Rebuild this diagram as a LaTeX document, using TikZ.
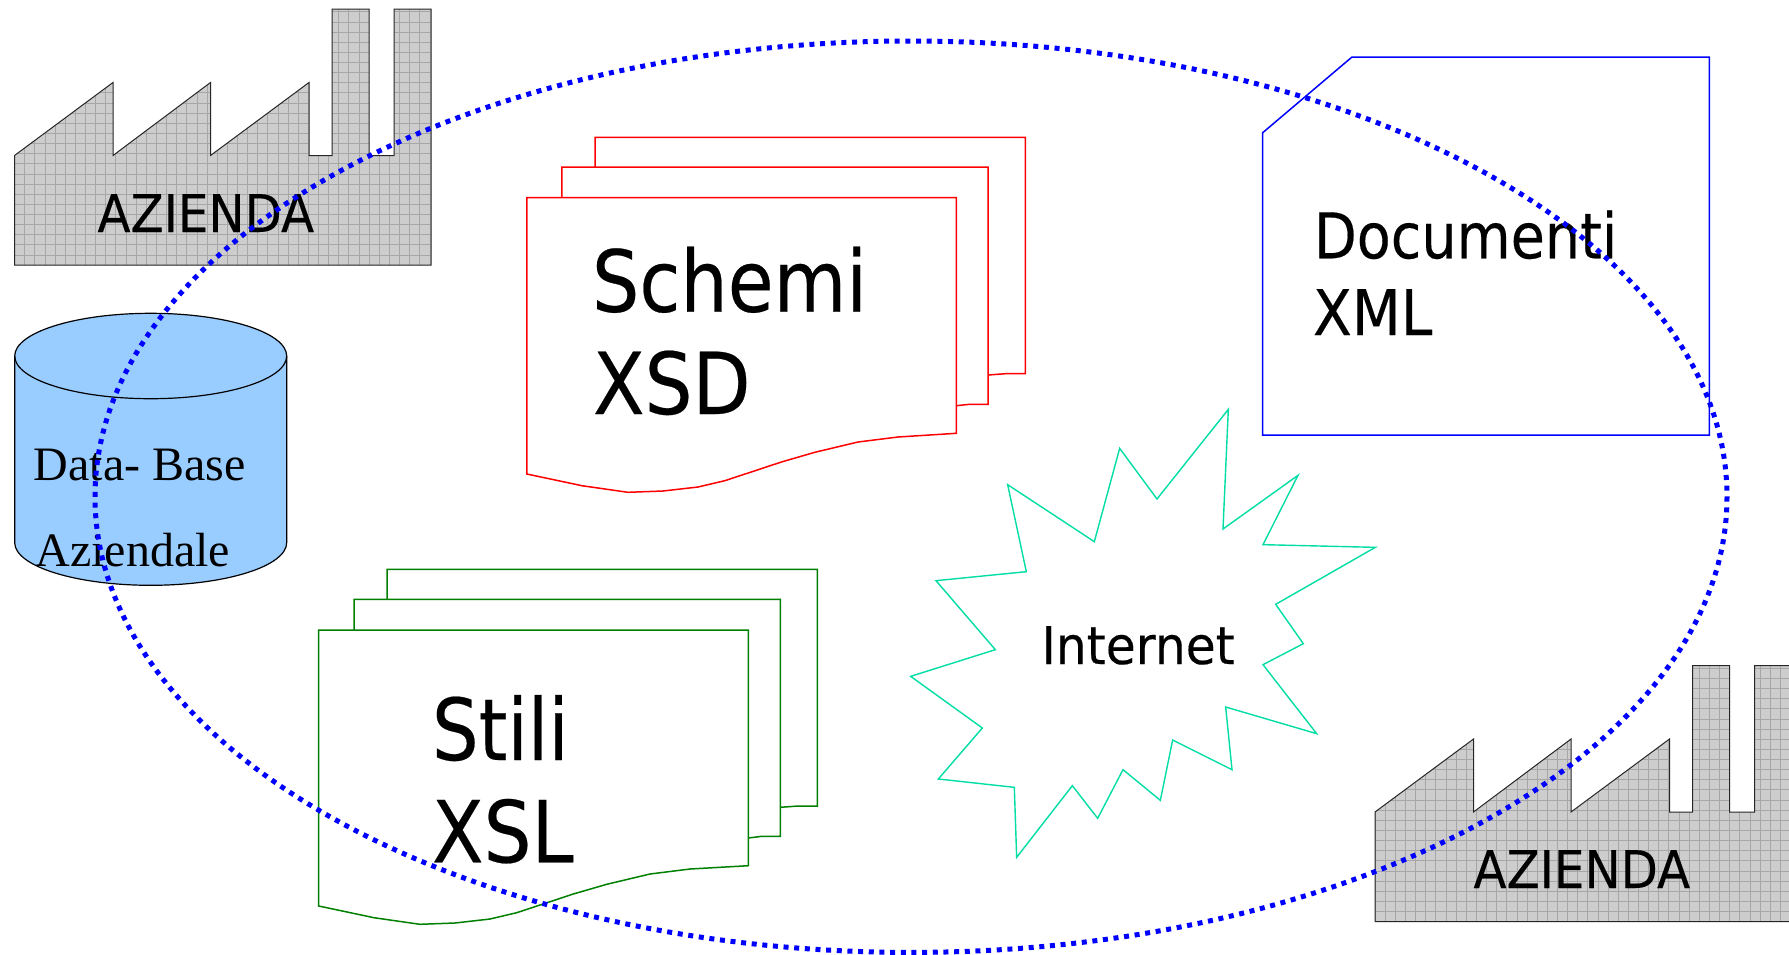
\documentclass[tikz,border=0pt]{standalone}
\usepackage{graphicx}
\usepackage{fontspec}
\setmainfont{Liberation Serif}
\newfontfamily\tah[FakeStretch=0.9,FakeBold=0.25]{DejaVu Sans}
\newcommand{\hs}[2]{\scalebox{#1}[1]{#2}}
\definecolor{burstc}{HTML}{00DEA5}
\definecolor{dbfill}{HTML}{99CCFF}
\definecolor{facfill}{HTML}{CDCDCD}
\definecolor{facgrid}{HTML}{A6A6A6}
\definecolor{docgreen}{HTML}{008000}
\tikzset{
  x=1pt,y=-1pt,
  labeltext/.style={anchor=base west,inner sep=0pt,outer sep=0pt,font=\tah,align=left,text=black},
  bigsize/.style={font=\tah\fontsize{85.5}{100}\selectfont},
  midsize/.style={font=\tah\fontsize{63}{77}\selectfont},
  smallsize/.style={font=\tah\fontsize{52}{60}\selectfont},
  dbtext/.style={anchor=base west,inner sep=0pt,outer sep=0pt,font=\fontsize{48}{50}\selectfont},
  redpage/.style={draw=red,line width=1.5pt,line join=miter},
  greenpage/.style={draw=docgreen,line width=1.5pt,line join=miter},
  bluepage/.style={draw=blue,line width=1.5pt,line join=miter},
  burst/.style={draw=burstc,line width=1.4pt,line join=miter},
  dbline/.style={draw=black,line width=1.2pt},
  ring/.style={draw=blue,line width=5pt,dash pattern=on 5pt off 5.67pt},
  factory/.pic={
    \path[fill=facfill] (14.5,155.5) -- (113,82.5) -- (113,155.5) -- (210.5,82.5) -- (210.5,155.5) -- (309,82.5) -- (309,155.5) -- (332,155.5) -- (332,9) -- (369,9) -- (369,155.5) -- (394,155.5) -- (394,9) -- (431,9) -- (431,265) -- (14.5,265) -- cycle;
    \begin{scope}
      \clip (14.5,155.5) -- (113,82.5) -- (113,155.5) -- (210.5,82.5) -- (210.5,155.5) -- (309,82.5) -- (309,155.5) -- (332,155.5) -- (332,9) -- (369,9) -- (369,155.5) -- (394,155.5) -- (394,9) -- (431,9) -- (431,265) -- (14.5,265) -- cycle;
      \foreach \i in {0,...,41} \draw[facgrid,line width=.65pt] ({14.5+\i*10.13},0) -- ({14.5+\i*10.13},270);
      \foreach \i in {0,...,26} \draw[facgrid,line width=.65pt] (10,{265-\i*10.13}) -- (440,{265-\i*10.13});
    \end{scope}
    \draw[black!85,line width=1pt,line join=miter] (14.5,155.5) -- (113,82.5) -- (113,155.5) -- (210.5,82.5) -- (210.5,155.5) -- (309,82.5) -- (309,155.5) -- (332,155.5) -- (332,9) -- (369,9) -- (369,155.5) -- (394,155.5) -- (394,9) -- (431,9) -- (431,265) -- (14.5,265) -- cycle;
  }
}
\begin{document}
\begin{tikzpicture}
\useasboundingbox (0,0) rectangle (1789,954);
\fill[white] (0,0) rectangle (1789,954);

% factories
\pic at (0,0) {factory};
\pic at (1360.5,656.5) {factory};
\node[labeltext,smallsize] (az1) at (97.5,232) {\hs{1.033}{AZIENDA}};
\node[labeltext,smallsize] (az2) at (1473.5,888) {\hs{1.033}{AZIENDA}};

% database cylinder
\draw[dbline,fill=dbfill] (14.7,356) -- (14.7,542.6) arc[start angle=180,end angle=360,x radius=136,y radius=-42.7] -- (286.7,356) arc[start angle=0,end angle=180,x radius=136,y radius=-42.7] -- cycle;
\draw[dbline] (14.7,356) arc[start angle=180,end angle=360,x radius=136,y radius=-42.7];
\node[dbtext] (db1) at (34,480) {Data- Base};
\node[dbtext] (db2) at (35.5,566.7) {Aziendale};

% red stack
\draw[redpage] (988.2,375) -- (1005.4,373.7) -- (1025.4,373.7) -- (1025.4,137.3) -- (595,137.3) -- (595,167);
\draw[redpage] (956.4,405.7) -- (969.6,404.3) -- (988.2,404.3) -- (988.2,167) -- (561.8,167) -- (561.8,197.7);
\draw[redpage] (526.8,197.7) -- (956.4,197.7) -- (956.4,433.3) -- (898,437) -- (858,442) -- (814.8,452.3) -- (781.4,462) -- (724.8,480.7) -- (698,487) -- (663,491) -- (628,492.3) -- (582,485.7) -- (526.8,474) -- cycle;
\node[labeltext,bigsize] (schemi) at (592,311.7) {\hs{.97}{Schemi}};
\node[labeltext,bigsize] (xsd) at (593,414) {\hs{.98}{XSD}};

% green stack
\draw[greenpage] (780.3,807.3) -- (798.3,806) -- (817.3,806) -- (817.3,569.3) -- (387,569.3) -- (387,599.3);
\draw[greenpage] (748.3,838) -- (761.7,836.3) -- (780.3,836.3) -- (780.3,599.3) -- (354,599.3) -- (354,630);
\draw[greenpage] (318.7,630) -- (748.3,630) -- (748.3,865.7) -- (690,869) -- (650,874) -- (606.7,884.3) -- (573.3,894) -- (516.7,912.7) -- (490,919) -- (455,923) -- (420,924.3) -- (374,917.7) -- (318.7,906) -- cycle;
\node[labeltext,bigsize] (stili) at (432,760) {\hs{.955}{Stili}};
\node[labeltext,bigsize] (xsl) at (432,862.3) {\hs{.98}{XSL}};

% blue document
\draw[bluepage] (1262.7,132.7) -- (1352,57) -- (1709.3,57) -- (1709.3,435) -- (1262.7,435) -- cycle;
\node[labeltext,midsize] (docu) at (1314,258.3) {\hs{.98}{Documenti}};
\node[labeltext,midsize] (xml) at (1313,335) {XML};

% internet burst
\begin{scope}[shift={(880,390)},scale=0.33333]
\draw[burst] (1045,58) -- (1029,417) -- (1254,256) -- (1149,464) -- (1486,472) -- (1187,643) -- (1270,761) -- (1149,824) -- (1310,1031) -- (1037,951) -- (1056,1139) -- (878,1050) -- (841,1231) -- (729,1139) -- (653,1285) -- (577,1187) -- (410,1402) -- (403,1192) -- (175,1167) -- (307,1014) -- (92,859) -- (346,779) -- (168,572) -- (439,545) -- (383,284) -- (643,455) -- (719,175) -- (831,327) -- cycle;
\end{scope}
\node[labeltext,smallsize] (inet) at (1041.5,664) {\hs{1.04}{Internet}};

% dotted ellipse
\draw[ring] (911,496.7) ellipse[x radius=816,y radius=455.7];
\end{tikzpicture}
\end{document}
